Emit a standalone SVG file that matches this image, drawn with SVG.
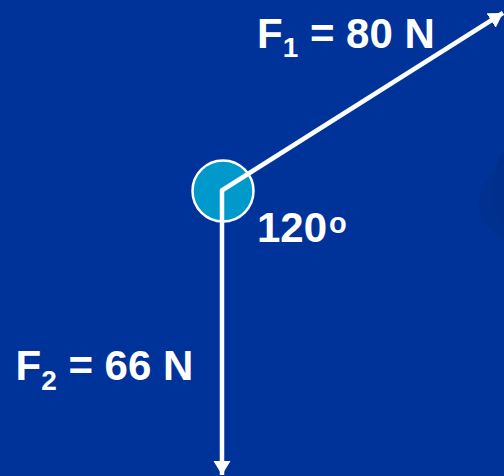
<svg xmlns="http://www.w3.org/2000/svg" width="504" height="476" viewBox="0 0 504 476">
<style>
.lbl{font-family:"Liberation Sans",Arial,sans-serif;font-weight:bold;font-size:42px;fill:#ffffff}
.vec{stroke:#ffffff;stroke-width:4.5;fill:none}
</style>
<defs>
<marker id="ah" markerUnits="userSpaceOnUse" markerWidth="16" markerHeight="18" refX="14" refY="8.5" orient="auto">
<path d="M0,0 L14,8.5 L0,17 Z" fill="#ffffff"/>
</marker>
</defs>
<rect x="0" y="0" width="504" height="476" fill="#003399"/>
<path d="M504,162 C488,172 479,190 479,207 C480,220 490,232 504,240 Z" fill="#003190"/>
<path d="M504,150 C496,162 491,176 492,190 C493,205 498,216 504,224 Z" fill="#002f8d"/>
<g id="particle">
<circle cx="223" cy="191" r="30.5" fill="#0099cc" stroke="#ffffff" stroke-width="2.5"/>
</g>
<g id="connectors">
<line class="vec" x1="222" y1="190" x2="222" y2="475" marker-end="url(#ah)"/>
<line class="vec" x1="221" y1="191" x2="503" y2="13" marker-end="url(#ah)"/>
</g>
<g id="label-f1">
<text class="lbl" x="257" y="47.7">F<tspan font-size="28" dy="9.6">1</tspan><tspan dy="-9.6"> = 80 N</tspan></text>
</g>
<g id="label-f2">
<text class="lbl" x="15.5" y="380">F<tspan font-size="28" dy="9.6">2</tspan><tspan dy="-9.6"> = 66 N</tspan></text>
</g>
<g id="label-angle">
<text class="lbl" x="257" y="242.3">120<tspan font-size="29" dx="2" dy="-9.3">o</tspan></text>
</g>
</svg>
